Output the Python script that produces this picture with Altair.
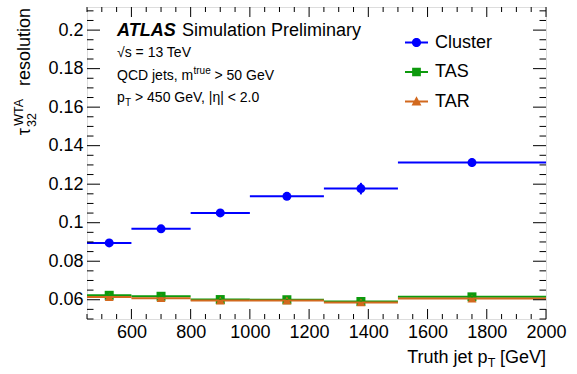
import altair as alt
import pandas as pd

# ---------------------------------------------------------------- data
# Truth-jet pT bins [GeV]
bin_low = [450, 600, 800, 1000, 1250, 1500]
bin_high = [600, 800, 1000, 1250, 1500, 2000]

series_names = ["Cluster", "TAS", "TAR"]
series_colors = ["#0000ff", "#0d9a0d", "#d2691e"]
series_shapes = ["circle", "square", "triangle-up"]
series_sizes = [81, 81, 110]

# tau32 (WTA) resolution per bin and its uncertainty
cluster_res = [0.0895, 0.0968, 0.1051, 0.1137, 0.1177, 0.1312]
cluster_err = [0.0009, 0.0009, 0.0009, 0.0010, 0.0030, 0.0022]
tas_res = [0.0623, 0.0618, 0.0601, 0.0600, 0.0591, 0.0615]
tas_err = [0.0004, 0.0004, 0.0003, 0.0003, 0.0004, 0.0004]
tar_res = [0.0614, 0.0608, 0.0596, 0.0596, 0.0586, 0.0606]
tar_err = [0.0004, 0.0004, 0.0003, 0.0003, 0.0004, 0.0004]

# axis ticks
x_major = [600, 800, 1000, 1200, 1400, 1600, 1800, 2000]
y_major = [0.06, 0.08, 0.1, 0.12, 0.14, 0.16, 0.18, 0.2]
x_minor = [v for v in range(450, 2001, 50) if v not in x_major]
y_minor = [round(0.05 + 0.005 * i, 3) for i in range(33)]
y_minor = [v for v in y_minor if all(abs(v - m) > 1e-9 for m in y_major)]

x_domain = [450, 2000]
y_domain = [0.05, 0.212]

FONT = "Liberation Sans"
BIG = 18
SMALL = 14
W, H = 459, 312

rows = []
for name, res, err in zip(series_names, [cluster_res, tas_res, tar_res],
                          [cluster_err, tas_err, tar_err]):
    for lo, hi, r, e in zip(bin_low, bin_high, res, err):
        rows.append({"series": name, "lo": lo, "hi": hi, "center": (lo + hi) / 2,
                     "res": r, "res_lo": r - e, "res_hi": r + e})
df = pd.DataFrame(rows)

xs = alt.Scale(domain=x_domain, nice=False, zero=False)
ys = alt.Scale(domain=y_domain, nice=False, zero=False)


def color_enc(legend=None):
    return alt.Color("series:N", scale=alt.Scale(domain=series_names, range=series_colors),
                     legend=legend)


# markers, carrying the labelled axes
points = alt.Chart(df).mark_point(filled=True, opacity=1).encode(
    x=alt.X("center:Q", scale=xs,
            axis=alt.Axis(orient="bottom", values=x_major, ticks=False, tickSize=0,
                          domain=False, grid=False, title=None, labelFont=FONT,
                          labelFontSize=BIG, labelColor="black", labelPadding=4,
                          labelFlush=False, labelOverlap=False, format="d")),
    y=alt.Y("res:Q", scale=ys,
            axis=alt.Axis(orient="left", values=y_major, ticks=False, tickSize=0,
                          domain=False, grid=False, title=None, labelFont=FONT,
                          labelFontSize=BIG, labelColor="black", labelPadding=4,
                          labelFlush=False, labelOverlap=False, format=".2~f")),
    color=color_enc(),
    shape=alt.Shape("series:N", scale=alt.Scale(domain=series_names, range=series_shapes),
                    legend=None),
    size=alt.Size("series:O", scale=alt.Scale(domain=series_names, range=series_sizes),
                  legend=None),
)

# bin-width horizontal bars
bins = alt.Chart(df).mark_rule(strokeWidth=2).encode(
    x=alt.X("lo:Q", scale=xs, axis=None),
    x2="hi:Q",
    y=alt.Y("res:Q", scale=ys, axis=None),
    color=color_enc(),
)

# vertical uncertainty bars
errs = alt.Chart(df).mark_rule(strokeWidth=2).encode(
    x=alt.X("center:Q", scale=xs, axis=None),
    y=alt.Y("res_lo:Q", scale=ys, axis=None),
    y2="res_hi:Q",
    color=color_enc(),
)

# legend entries: line with marker
legend_paths = [
    "M-1,-0.08H1V0.08H-1Z M-0.4,0A0.4,0.4,0,1,1,0.4,0A0.4,0.4,0,1,1,-0.4,0Z",
    "M-1,-0.08H1V0.08H-1Z M-0.38,-0.38H0.38V0.38H-0.38Z",
    "M-1,-0.08H1V0.08H-1Z M0,-0.46L0.43,0.34H-0.43Z",
]
leg = alt.Legend(orient="none", legendX=318, legendY=24, title=None, labelFont=FONT,
                 labelFontSize=BIG, labelColor="black", symbolSize=529,
                 symbolStrokeWidth=0, labelOffset=7, rowPadding=8.5, padding=0,
                 symbolOpacity=1)
legend_layer = alt.Chart(df).transform_filter("false").mark_point(
    filled=True, opacity=1).encode(
    x=alt.X("center:Q", scale=xs, axis=None),
    y=alt.Y("res:Q", scale=ys, axis=None),
    color=color_enc(leg),
    shape=alt.Shape("series:N", scale=alt.Scale(domain=series_names, range=legend_paths),
                    legend=leg),
)


# inward tick marks on all four edges of the frame
def x_ticks(values, length):
    d = pd.DataFrame({"v": values})
    base = alt.Chart(d).mark_rule(color="black", strokeWidth=1)
    x = alt.X("v:Q", scale=xs, axis=None)
    return [base.encode(x=x, y=alt.value(H), y2=alt.value(H - length)),
            base.encode(x=x, y=alt.value(0), y2=alt.value(length))]


def y_ticks(values, length):
    d = pd.DataFrame({"v": values})
    base = alt.Chart(d).mark_rule(color="black", strokeWidth=1)
    y = alt.Y("v:Q", scale=ys, axis=None)
    return [base.encode(y=y, x=alt.value(0), x2=alt.value(length)),
            base.encode(y=y, x=alt.value(W), x2=alt.value(W - length))]


tick_layers = (x_ticks(x_major, 10) + x_ticks(x_minor, 5)
               + y_ticks(y_major, 13) + y_ticks(y_minor, 6.5))

one = pd.DataFrame({"_": [0]})


def txt(text, x, y, size=SMALL, align="left", weight="normal", style="normal", angle=0):
    return alt.Chart(one).mark_text(
        text=text, align=align, baseline="alphabetic", font=FONT, fontSize=size,
        fontWeight=weight, fontStyle=style, angle=angle, color="black",
    ).encode(x=alt.value(x), y=alt.value(y))


texts = [
    txt("ATLAS", 30, 29, size=BIG, weight="bold", style="italic"),
    txt("Simulation Preliminary", 95, 29, size=BIG),
    txt("\u221as = 13 TeV", 30, 50),
    txt("QCD jets, m", 30, 73),
    txt("true", 106.5, 66.5, size=10),
    txt("> 50 GeV", 127.5, 73),
    txt("p", 30, 95),
    txt("T", 38, 98.5, size=10),
    txt("> 450 GeV, |\u03b7| < 2.0", 48, 95),
    # x-axis title
    txt("[GeV]", 459, 356, size=BIG, align="right"),
    txt("T", 408.5, 360, size=12.5, align="right"),
    txt("Truth jet p", 400.5, 356, size=BIG, align="right"),
    # y-axis title (rotated)
    txt("resolution", -57, 1, size=BIG, align="right", angle=270),
    txt("WTA", -64.5, 92, size=12.5, align="right", angle=270),
    txt("32", -51.5, 120, size=12.5, align="left", angle=270),
    txt("\u03c4", -57, 121, size=BIG, align="right", angle=270),
]

chart = alt.layer(points, bins, errs, legend_layer, *tick_layers, *texts).resolve_axis(
    x="independent", y="independent"
).resolve_scale(
    color="independent", shape="independent", size="independent"
).properties(
    width=W, height=H,
    autosize=alt.AutoSizeParams(type="none"),
    padding={"left": 87, "top": 7, "right": 31, "bottom": 55},
).configure_view(stroke="black", strokeWidth=1.5).configure(background="white")

chart.save("out.html", embed_options={"renderer": "svg", "actions": False})
